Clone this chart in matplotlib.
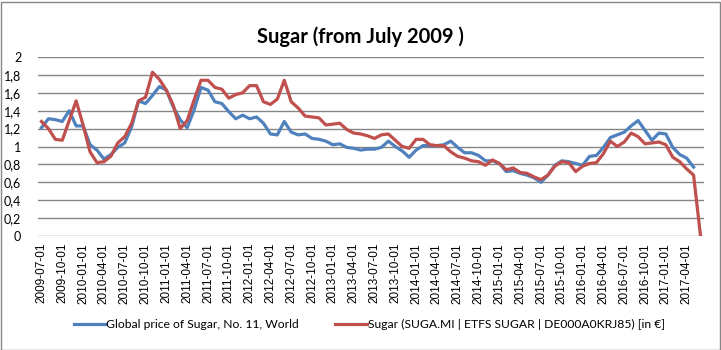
import matplotlib
matplotlib.use("Agg")
import matplotlib.pyplot as plt
import matplotlib.patches as patches
import pandas as pd

# monthly categories, Jul 2009 .. Jun 2017
months = pd.date_range("2009-07-01", periods=96, freq="MS").strftime("%Y-%m-%d").tolist()

# Global price of Sugar, No. 11, World (ends one month earlier)
world_price = [
    1.21, 1.31, 1.30, 1.28, 1.40, 1.23, 1.23, 1.02, 0.96, 0.86,
    0.91, 0.99, 1.04, 1.22, 1.51, 1.48, 1.57, 1.67, 1.63, 1.44,
    1.30, 1.21, 1.41, 1.66, 1.63, 1.50, 1.48, 1.39, 1.31, 1.35,
    1.31, 1.33, 1.26, 1.14, 1.13, 1.28, 1.16, 1.13, 1.14, 1.09,
    1.08, 1.06, 1.02, 1.03, 0.99, 0.98, 0.96, 0.97, 0.97, 0.99,
    1.06, 1.00, 0.95, 0.88, 0.96, 1.01, 1.01, 1.01, 1.02, 1.06,
    0.99, 0.93, 0.93, 0.90, 0.84, 0.84, 0.81, 0.72, 0.73, 0.70,
    0.68, 0.65, 0.60, 0.68, 0.79, 0.84, 0.83, 0.81, 0.79, 0.89,
    0.90, 0.99, 1.10, 1.13, 1.16, 1.23, 1.29, 1.18, 1.07, 1.15,
    1.14, 0.99, 0.91, 0.87, 0.77,
]

# ETFS Sugar (SUGA.MI)
etf_price = [
    1.28, 1.20, 1.08, 1.07, 1.29, 1.51, 1.24, 0.94, 0.82, 0.83,
    0.89, 1.04, 1.11, 1.26, 1.51, 1.55, 1.83, 1.75, 1.63, 1.46,
    1.20, 1.29, 1.52, 1.74, 1.74, 1.66, 1.64, 1.54, 1.58, 1.60,
    1.68, 1.68, 1.50, 1.47, 1.53, 1.74, 1.50, 1.43, 1.34, 1.33,
    1.32, 1.24, 1.25, 1.26, 1.19, 1.15, 1.14, 1.12, 1.09, 1.13,
    1.14, 1.07, 1.00, 0.98, 1.08, 1.08, 1.02, 1.01, 1.01, 0.94,
    0.89, 0.87, 0.84, 0.83, 0.79, 0.85, 0.81, 0.74, 0.76, 0.71,
    0.70, 0.66, 0.63, 0.68, 0.78, 0.83, 0.82, 0.72, 0.78, 0.81,
    0.82, 0.92, 1.06, 1.00, 1.05, 1.15, 1.11, 1.03, 1.04, 1.05,
    1.02, 0.88, 0.83, 0.75, 0.68, 0.0,
]

y_ticks = [0, 0.2, 0.4, 0.6, 0.8, 1, 1.2, 1.4, 1.6, 1.8, 2]
y_labels = ["0", "0,2", "0,4", "0,6", "0,8", "1", "1,2", "1,4", "1,6", "1,8", "2"]

plt.rcParams["font.family"] = ["Lato", "DejaVu Sans"]

fig = plt.figure(figsize=(7.21, 3.5), dpi=100)
ax = fig.add_axes([38 / 721, 1 - 236 / 350, 666 / 721, 179 / 350])

x_all = list(range(len(months)))
ax.plot(x_all[:len(world_price)], world_price, color="#4F81BD", lw=2.3,
        solid_joinstyle="round", label="Global price of Sugar, No. 11, World")
ax.plot(x_all, etf_price, color="#C0504D", lw=2.3, solid_joinstyle="round",
        label="Sugar (SUGA.MI | ETFS SUGAR | DE000A0KRJ85) [in \u20ac]")

ax.set_xlim(-0.5, len(months) - 0.5)
ax.set_ylim(0, 2)
ax.set_yticks(y_ticks)
ax.set_yticklabels(y_labels, fontsize=9)
ax.set_xticks(x_all[::3])
ax.set_xticklabels(months[::3], rotation=90, fontsize=8.5, family=["Liberation Sans"])
ax.tick_params(axis="both", length=0, pad=5)
ax.tick_params(axis="y", pad=12)
ax.yaxis.grid(True, color="#868686", lw=1)
ax.set_axisbelow(True)
for s in ax.spines.values():
    s.set_visible(False)

fig.suptitle("Sugar (from July 2009 )", fontsize=14.5, fontweight="bold", y=0.925)

fig.legend(loc="center", bbox_to_anchor=(0.512, 0.072), ncol=2, frameon=False,
           fontsize=8.7, handlelength=2.6, handletextpad=0.1, columnspacing=3.0)

# chart border
fig.patches.append(patches.Rectangle((0.5 / 721, 0.5 / 350), 719 / 721, 348 / 350,
                                     transform=fig.transFigure, fill=False,
                                     edgecolor="#868686", lw=1))

fig.savefig("out.png", dpi=100)
